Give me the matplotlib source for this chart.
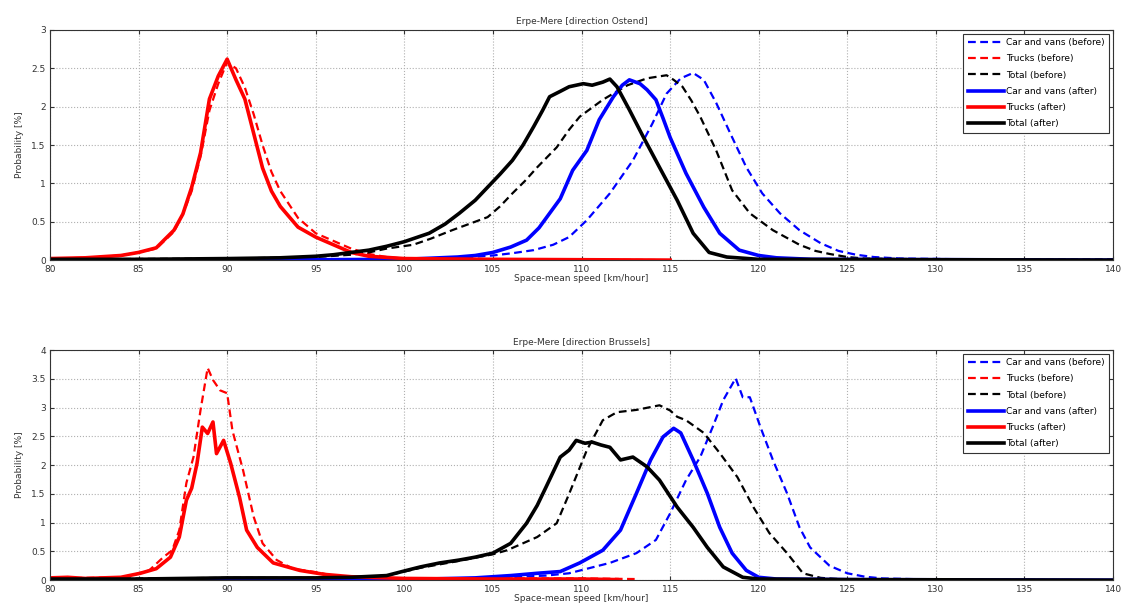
import matplotlib.pyplot as plt

# speed [km/h], probability [%] for each vehicle class, before/after
# --- direction Ostend ---
ost_car_before = [(80, 0.0), (100, 0.01), (103, 0.03), (105, 0.06), (106.1, 0.09), (107.3, 0.13),
                  (108.4, 0.2), (109.3, 0.3), (110.3, 0.52), (111.6, 0.87), (112.9, 1.3), (114, 1.78),
                  (114.8, 2.17), (115.6, 2.37), (116.3, 2.44), (116.9, 2.35), (117.6, 2.05), (118.4, 1.65),
                  (119.3, 1.21), (120.2, 0.87), (121.2, 0.61), (122.3, 0.39), (123.5, 0.22), (124.5, 0.12),
                  (125.5, 0.07), (126.5, 0.04), (128, 0.02), (132, 0.01), (140, 0.0)]
ost_trucks_before = [(80, 0.02), (82, 0.03), (84, 0.06), (85, 0.1), (86, 0.15), (87, 0.37), (87.5, 0.6),
                     (88, 0.9), (88.5, 1.35), (89, 1.95), (89.5, 2.3), (90, 2.58), (90.5, 2.5), (91, 2.25),
                     (91.5, 1.9), (92, 1.5), (92.5, 1.15), (93, 0.9), (94, 0.55), (95, 0.35), (96, 0.25),
                     (97, 0.15), (98, 0.08), (99, 0.04), (100, 0.02), (105, 0.01), (115, 0.0)]
ost_total_before = [(80, 0.01), (90, 0.02), (95, 0.04), (97, 0.07), (98, 0.1), (99, 0.15), (100.5, 0.2),
                    (101.5, 0.28), (102.7, 0.39), (104.7, 0.56), (105.4, 0.7), (106.1, 0.87), (106.8, 1.03),
                    (107.5, 1.21), (108.6, 1.47), (109.3, 1.7), (109.9, 1.87), (111.2, 2.09), (112, 2.2),
                    (112.6, 2.28), (113.7, 2.37), (114.8, 2.41), (115.2, 2.35), (115.7, 2.26), (116.2, 2.08),
                    (116.7, 1.87), (117.6, 1.43), (118.5, 0.91), (119.5, 0.61), (120.8, 0.39), (122.3, 0.2),
                    (123.2, 0.12), (124, 0.08), (125, 0.04), (126, 0.02), (130, 0.01), (140, 0.01)]
ost_car_after = [(80, 0.0), (95, 0.005), (100, 0.01), (103, 0.04), (104, 0.06), (105, 0.1), (106, 0.17),
                 (106.9, 0.26), (107.6, 0.42), (108.2, 0.61), (108.8, 0.8), (109.5, 1.17), (110.3, 1.43),
                 (111, 1.83), (111.8, 2.13), (112.3, 2.28), (112.7, 2.35), (113.3, 2.3), (113.7, 2.22),
                 (114.2, 2.09), (114.6, 1.85), (115, 1.6), (115.9, 1.13), (116.9, 0.69), (117.8, 0.35),
                 (118.9, 0.13), (120, 0.06), (121, 0.03), (123, 0.01), (140, 0.0)]
ost_trucks_after = [(80, 0.02), (82, 0.03), (84, 0.06), (85, 0.1), (86, 0.16), (87, 0.39), (87.5, 0.6),
                    (88, 0.95), (88.5, 1.4), (89, 2.1), (89.5, 2.4), (90, 2.62), (90.5, 2.35), (91, 2.1),
                    (91.5, 1.65), (92, 1.2), (92.5, 0.9), (93, 0.7), (94, 0.43), (95, 0.3), (96, 0.2),
                    (97, 0.1), (98, 0.05), (100, 0.02), (105, 0.01), (115, 0.0)]
ost_total_after = [(80, 0.01), (85, 0.01), (90, 0.02), (93, 0.03), (95, 0.05), (96, 0.07), (97, 0.1),
                   (98, 0.13), (99, 0.18), (100, 0.24), (101.4, 0.35), (102.3, 0.47), (103.1, 0.61),
                   (104, 0.78), (104.7, 0.95), (105.4, 1.12), (106.1, 1.3), (106.7, 1.5), (107.3, 1.74),
                   (107.8, 1.95), (108.2, 2.13), (108.8, 2.2), (109.3, 2.26), (110.1, 2.3), (110.6, 2.28),
                   (111.2, 2.32), (111.6, 2.36), (112, 2.26), (112.7, 1.96), (113.5, 1.6), (114.4, 1.21),
                   (115.4, 0.78), (116.3, 0.35), (117.2, 0.1), (118.2, 0.04), (120, 0.01), (140, 0.0)]

# --- direction Brussels ---
bru_car_before = [(80, 0.0), (100, 0.01), (105, 0.04), (108, 0.08), (109.3, 0.12), (111.6, 0.3),
                  (113.1, 0.47), (114.2, 0.7), (115, 1.16), (115.9, 1.74), (116.7, 2.14), (117.4, 2.66),
                  (118, 3.13), (118.7, 3.51), (119.1, 3.18), (119.5, 3.18), (120.1, 2.66), (120.8, 2.09),
                  (121.6, 1.51), (122.3, 0.92), (122.9, 0.57), (124, 0.25), (125, 0.12), (126, 0.06),
                  (127, 0.03), (130, 0.01), (140, 0.0)]
bru_trucks_before = [(80, 0.03), (84, 0.05), (84.7, 0.09), (85.6, 0.17), (86.4, 0.4), (86.9, 0.52),
                     (87.3, 0.87), (87.7, 1.69), (88.1, 2.14), (88.5, 2.96), (88.9, 3.69), (89.2, 3.48),
                     (89.6, 3.3), (90, 3.25), (90.3, 2.6), (90.9, 1.91), (91.5, 1.1), (92, 0.64),
                     (92.8, 0.35), (93.7, 0.2), (95, 0.14), (96.5, 0.05), (100, 0.03), (105, 0.03),
                     (110, 0.03), (113, 0.02)]
bru_total_before = [(80, 0.02), (90, 0.04), (95, 0.04), (97, 0.05), (99, 0.08), (100, 0.15), (101, 0.22),
                    (103, 0.33), (105, 0.45), (105.8, 0.52), (107.5, 0.75), (108.6, 0.99), (109.3, 1.5),
                    (110.3, 2.26), (111.2, 2.78), (112, 2.92), (113.1, 2.96), (114.4, 3.04), (115, 2.95),
                    (115.4, 2.84), (115.9, 2.78), (116.9, 2.56), (117.8, 2.21), (118.8, 1.79), (119.7, 1.27),
                    (120.6, 0.82), (121.6, 0.47), (122.5, 0.12), (123.5, 0.04), (125, 0.01), (140, 0.0)]
bru_car_after = [(80, 0.0), (100, 0.01), (104, 0.04), (106, 0.08), (107.5, 0.12), (108.8, 0.15),
                 (109.9, 0.3), (111.2, 0.52), (112.2, 0.87), (113.1, 1.51), (113.9, 2.09), (114.6, 2.49),
                 (115.2, 2.64), (115.6, 2.56), (116.3, 2.09), (117.1, 1.51), (117.8, 0.92), (118.5, 0.47),
                 (119.3, 0.17), (120, 0.05), (121, 0.02), (125, 0.01), (140, 0.0)]
bru_trucks_after = [(80, 0.04), (81, 0.05), (82, 0.03), (84, 0.05), (85.1, 0.12), (86, 0.2), (86.8, 0.4),
                    (87.3, 0.75), (87.7, 1.39), (88, 1.6), (88.3, 2.03), (88.6, 2.66), (88.9, 2.55),
                    (89.2, 2.75), (89.4, 2.2), (89.8, 2.43), (90.2, 2.03), (90.7, 1.44), (91.1, 0.87),
                    (91.7, 0.57), (92.6, 0.3), (94.1, 0.17), (95.5, 0.1), (97, 0.06), (100, 0.03),
                    (105, 0.02), (110, 0.02), (112, 0.01)]
bru_total_after = [(80, 0.02), (85, 0.02), (90, 0.04), (95, 0.04), (97, 0.05), (99, 0.08), (100, 0.16),
                   (100.9, 0.23), (102, 0.3), (103.1, 0.35), (104, 0.4), (105, 0.47), (106, 0.64),
                   (106.9, 0.99), (107.5, 1.3), (108, 1.62), (108.8, 2.14), (109.3, 2.26), (109.7, 2.43),
                   (110.2, 2.38), (110.6, 2.4), (111.1, 2.35), (111.6, 2.31), (112.2, 2.09), (112.9, 2.14),
                   (113.7, 1.97), (114.4, 1.74), (115.4, 1.27), (116.3, 0.92), (117.1, 0.57), (118, 0.23),
                   (119.1, 0.05), (120, 0.02), (125, 0.01), (140, 0.0)]

labels = ['Car and vans (before)', 'Trucks (before)', 'Total (before)',
          'Car and vans (after)', 'Trucks (after)', 'Total (after)']
colors = ['#0000ff', '#ff0000', '#000000'] * 2
styles = ['--'] * 3 + ['-'] * 3
widths = [1.6] * 3 + [2.6] * 3

panels = [
    ('Erpe-Mere [direction Ostend]',
     [ost_car_before, ost_trucks_before, ost_total_before,
      ost_car_after, ost_trucks_after, ost_total_after], 3),
    ('Erpe-Mere [direction Brussels]',
     [bru_car_before, bru_trucks_before, bru_total_before,
      bru_car_after, bru_trucks_after, bru_total_after], 4),
]

fig = plt.figure(figsize=(11.25, 6.12), dpi=100)
positions = [[0.0444, 0.575, 0.945, 0.376], [0.0444, 0.052, 0.945, 0.376]]

for pos, (title, series, ymax) in zip(positions, panels):
    ax = fig.add_axes(pos)
    for s, lab, c, ls, lw in zip(series, labels, colors, styles, widths):
        v = [a for a, b in s]
        p = [b for a, b in s]
        line, = ax.plot(v, p, color=c, linestyle=ls, linewidth=lw, label=lab)
        if ls == '--':
            line.set_dashes((3.5, 2))
    ax.set_xlim(80, 140)
    ax.set_ylim(0, ymax)
    ax.set_xticks(range(80, 141, 5))
    ax.set_yticks([i * 0.5 for i in range(2 * ymax + 1)])
    ax.set_yticklabels(['%g' % (i * 0.5) for i in range(2 * ymax + 1)])
    ax.grid(True, linestyle=':', color='#b0b0b0', linewidth=0.8)
    ax.tick_params(direction='in', top=True, right=True, labelsize=6.5, length=3,
                   colors='#333333')
    ax.tick_params(axis='x', pad=3.5)
    ax.tick_params(axis='y', pad=3)
    for sp in ax.spines.values():
        sp.set_linewidth(0.8)
        sp.set_color('#333333')
    ax.set_title(title, fontsize=6.5, pad=4, color='#333333')
    ax.set_xlabel('Space-mean speed [km/hour]', fontsize=6.5, labelpad=0, color='#333333')
    ax.set_ylabel('Probability [%]', fontsize=6.5, labelpad=5, color='#333333')
    leg = ax.legend(loc='upper right', fontsize=6.5, handlelength=4.0, labelspacing=0.8,
                    borderaxespad=0.4, fancybox=False, framealpha=1, edgecolor='#333333',
                    handletextpad=0.3, borderpad=0.5)
    leg.get_frame().set_linewidth(0.8)

fig.savefig('out.png', dpi=100)
